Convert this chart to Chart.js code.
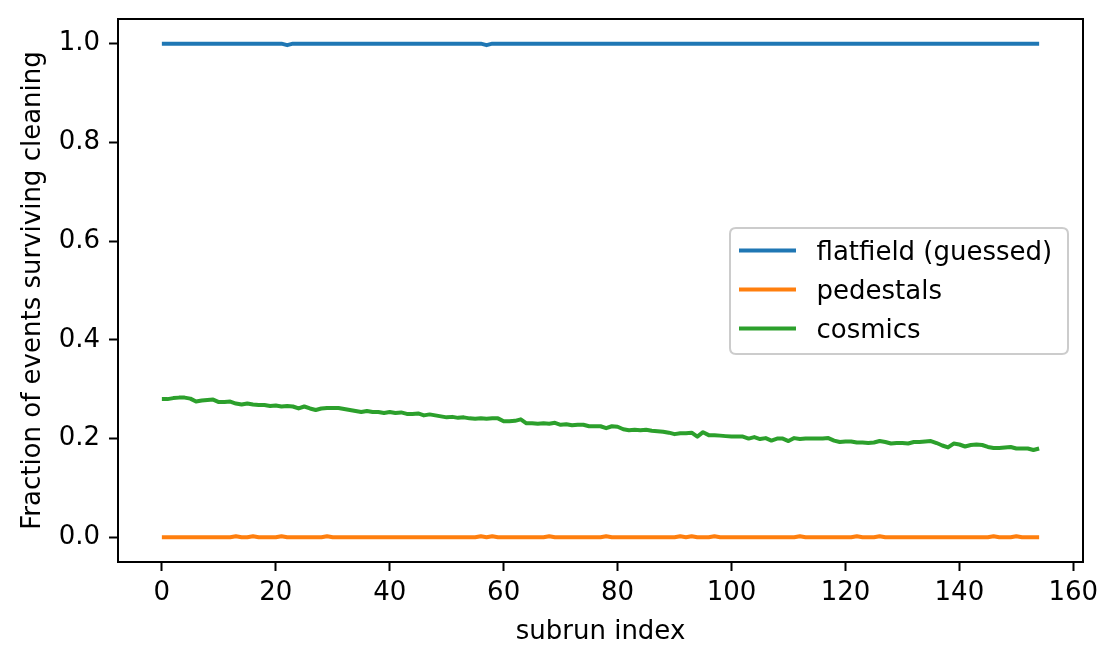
<!DOCTYPE html>
<html>
<head>
<meta charset="utf-8">
<script src="https://cdn.jsdelivr.net/npm/chart.js@4"></script>
<style>
html,body{margin:0;padding:0;background:#fff;}
#wrap{width:1102px;height:646px;}
</style>
</head>
<body>
<div id="wrap"><canvas id="c" width="1102" height="646"></canvas></div>
<script>
// ---- data ----
const subrunIndex = Array.from({length: 155}, (_, i) => i);
const xTicks = [0, 20, 40, 60, 80, 100, 120, 140, 160];
const yTicks = [0.0, 0.2, 0.4, 0.6, 0.8, 1.0];
const seriesLabels = ['flatfield (guessed)', 'pedestals', 'cosmics'];

const flatfield = [
1,1,1,1,1,1,1,1,1,1, 1,1,1,1,1,1,1,1,1,1,
1,1,0.997,1,1,1,1,1,1,1, 1,1,1,1,1,1,1,1,1,1,
1,1,1,1,1,1,1,1,1,1, 1,1,1,1,1,1,1,0.997,1,1,
1,1,1,1,1,1,1,1,1,1, 1,1,1,1,1,1,1,1,1,1,
1,1,1,1,1,1,1,1,1,1, 1,1,1,1,1,1,1,1,1,1,
1,1,1,1,1,1,1,1,1,1, 1,1,1,1,1,1,1,1,1,1,
1,1,1,1,1,1,1,1,1,1, 1,1,1,1,1,1,1,1,1,1,
1,1,1,1,1,1,1,1,1,1, 1,1,1,1,1
];

const pedestals = [
0,0,0,0,0,0,0,0,0,0, 0,0,0,0.002,0,0,0.002,0,0,0,
0,0.002,0,0,0,0,0,0,0,0.002, 0,0,0,0,0,0,0,0,0,0,
0,0,0,0,0,0,0,0,0,0, 0,0,0,0,0,0,0.002,0,0.002,0,
0,0,0,0,0,0,0,0,0.002,0, 0,0,0,0,0,0,0,0,0.002,0,
0,0,0,0,0,0,0,0,0,0, 0,0.002,0,0.002,0,0,0,0.002,0,0,
0,0,0,0,0,0,0,0,0,0, 0,0,0.002,0,0,0,0,0,0,0,
0,0,0.002,0,0,0,0.002,0,0,0, 0,0,0,0,0,0,0,0,0,0,
0,0,0,0,0,0,0.002,0,0,0, 0.002,0,0,0,0
];

const cosmics = [
0.280,0.280,0.282,0.283,0.283,0.281,0.275,0.277,0.278,0.279,
0.274,0.274,0.275,0.271,0.269,0.271,0.269,0.268,0.268,0.266,
0.267,0.265,0.266,0.265,0.261,0.265,0.261,0.258,0.261,0.262,
0.262,0.262,0.260,0.258,0.256,0.254,0.256,0.254,0.254,0.252,
0.254,0.252,0.253,0.250,0.250,0.251,0.247,0.249,0.247,0.245,
0.243,0.244,0.242,0.243,0.241,0.240,0.241,0.240,0.241,0.241,
0.235,0.235,0.236,0.239,0.231,0.231,0.230,0.231,0.230,0.232,
0.228,0.229,0.227,0.228,0.228,0.225,0.225,0.225,0.221,0.225,
0.224,0.219,0.217,0.218,0.217,0.218,0.216,0.215,0.214,0.212,
0.209,0.211,0.211,0.212,0.204,0.213,0.207,0.207,0.206,0.205,
0.204,0.204,0.204,0.200,0.203,0.199,0.201,0.196,0.200,0.200,
0.195,0.201,0.199,0.200,0.200,0.200,0.200,0.201,0.196,0.193,
0.194,0.194,0.192,0.192,0.191,0.192,0.195,0.193,0.190,0.191,
0.191,0.190,0.193,0.193,0.194,0.195,0.191,0.186,0.182,0.190,
0.188,0.184,0.187,0.188,0.187,0.183,0.181,0.181,0.182,0.183,
0.180,0.180,0.180,0.177,0.180
];

const colors = ['#1f77b4', '#ff7f0e', '#2ca02c'];
const FONT = 'DejaVu Sans';

function toPoints(vals) { return subrunIndex.map((x, i) => ({x: x, y: vals[i]})); }

const frameAndLegend = {
  id: 'frameAndLegend',
  afterDatasetsDraw(chart) {
    const ctx = chart.ctx;
    const a = chart.chartArea;
    ctx.save();
    ctx.strokeStyle = '#000';
    ctx.lineWidth = 2;
    ctx.strokeRect(a.left, a.top, a.right - a.left, a.bottom - a.top);
    // legend
    const bx = 730, by = 228, bw = 338, bh = 126, r = 6;
    ctx.beginPath();
    ctx.moveTo(bx + r, by);
    ctx.lineTo(bx + bw - r, by);
    ctx.quadraticCurveTo(bx + bw, by, bx + bw, by + r);
    ctx.lineTo(bx + bw, by + bh - r);
    ctx.quadraticCurveTo(bx + bw, by + bh, bx + bw - r, by + bh);
    ctx.lineTo(bx + r, by + bh);
    ctx.quadraticCurveTo(bx, by + bh, bx, by + bh - r);
    ctx.lineTo(bx, by + r);
    ctx.quadraticCurveTo(bx, by, bx + r, by);
    ctx.closePath();
    ctx.fillStyle = 'rgba(255,255,255,0.8)';
    ctx.fill();
    ctx.strokeStyle = '#cccccc';
    ctx.lineWidth = 2;
    ctx.stroke();
    const rows = [250.5, 289.5, 328.5];
    chart.data.datasets.forEach((ds, i) => {
      ctx.beginPath();
      ctx.strokeStyle = ds.borderColor;
      ctx.lineWidth = 4;
      ctx.moveTo(739, rows[i]);
      ctx.lineTo(796, rows[i]);
      ctx.stroke();
      ctx.fillStyle = '#000';
      ctx.font = '26px "' + FONT + '"';
      ctx.textBaseline = 'alphabetic';
      ctx.textAlign = 'left';
      ctx.fillText(ds.label, 816.5, rows[i] + 9.5);
    });
    ctx.restore();
  }
};

new Chart(document.getElementById('c'), {
  type: 'line',
  data: {
    datasets: [
      {label: seriesLabels[0], data: toPoints(flatfield), borderColor: colors[0]},
      {label: seriesLabels[1], data: toPoints(pedestals), borderColor: colors[1]},
      {label: seriesLabels[2], data: toPoints(cosmics), borderColor: colors[2]}
    ].map(d => Object.assign(d, {borderWidth: 4, pointRadius: 0, tension: 0, fill: false, borderJoinStyle: 'round', borderCapStyle: 'butt'}))
  },
  options: {
    responsive: false,
    animation: false,
    devicePixelRatio: 1,
    layout: {padding: {top: 19, right: 19, left: 0, bottom: 0}},
    plugins: {legend: {display: false}, tooltip: {enabled: false}},
    scales: {
      x: {
        type: 'linear',
        min: -7.7, max: 161.7,
        afterBuildTicks: s => { s.ticks = xTicks.map(v => ({value: v})); },
        afterFit: s => { s.height = 84; s.paddingLeft = 0; s.paddingRight = 0; },
        border: {display: false},
        grid: {display: true, drawOnChartArea: false, drawTicks: true, tickLength: 9, tickWidth: 2, tickColor: '#000'},
        ticks: {color: '#000', font: {family: FONT, size: 26}, padding: 7, maxRotation: 0, callback: v => String(v)},
        title: {display: true, text: 'subrun index', color: '#000', font: {family: FONT, size: 26}, padding: {top: 0, bottom: -2}}
      },
      y: {
        type: 'linear',
        min: -0.05, max: 1.05,
        afterBuildTicks: s => { s.ticks = yTicks.map(v => ({value: v})); },
        afterFit: s => { s.width = 118; s.paddingTop = 0; s.paddingBottom = 0; },
        border: {display: false},
        grid: {display: true, drawOnChartArea: false, drawTicks: true, tickLength: 9, tickWidth: 2, tickColor: '#000'},
        ticks: {color: '#000', font: {family: FONT, size: 26}, padding: 9, callback: v => v.toFixed(1)},
        title: {display: true, text: 'Fraction of events surviving cleaning', color: '#000', font: {family: FONT, size: 26}, padding: {top: 18, bottom: 0}}
      }
    }
  },
  plugins: [frameAndLegend]
});
</script>
</body>
</html>
